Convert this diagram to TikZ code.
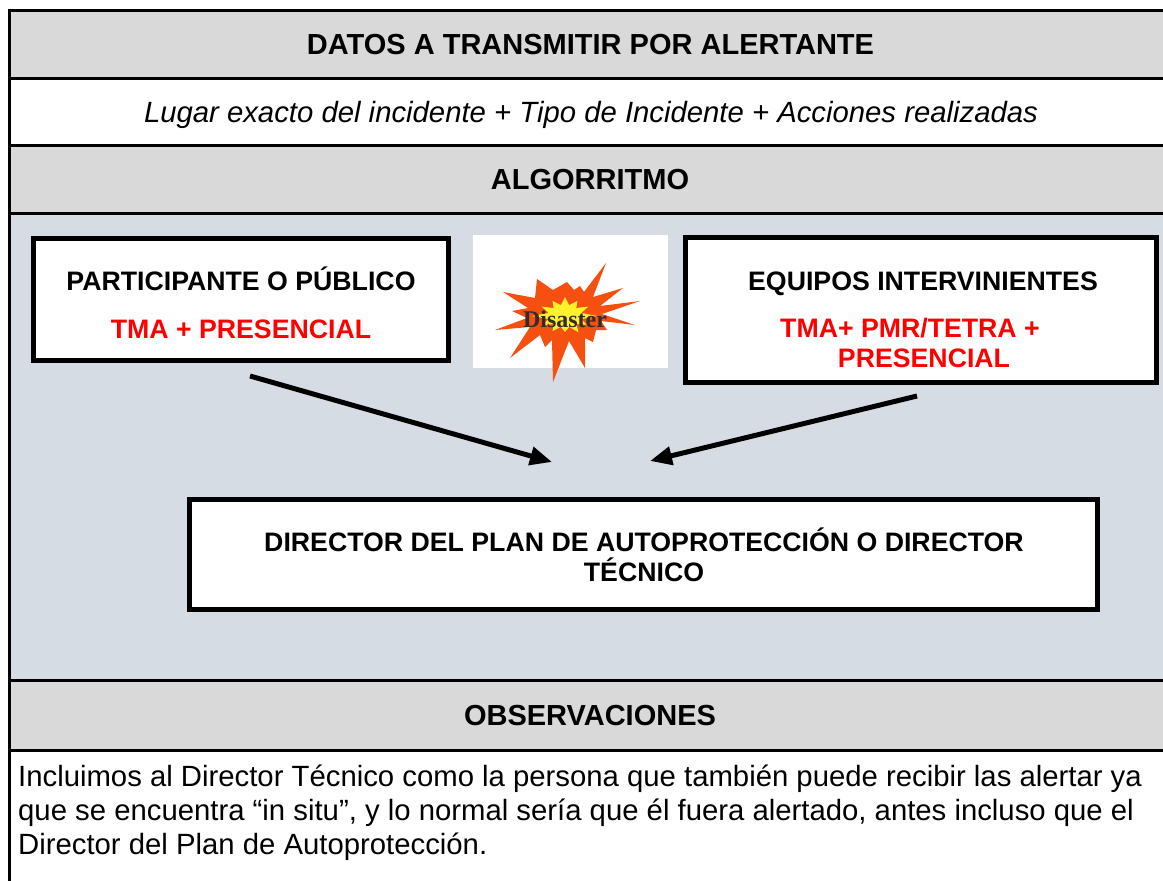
\documentclass[tikz,border=0pt]{standalone}
\usepackage{fontspec}
\setmainfont{Liberation Sans}
\newfontfamily\disfont{Liberation Serif}
\usetikzlibrary{arrows.meta}
\definecolor{hdr}{HTML}{D9D9D9}
\definecolor{alg}{HTML}{D6DCE4}
\definecolor{burst}{HTML}{F5500F}
\definecolor{bursty}{HTML}{FFF22A}
\definecolor{redtxt}{HTML}{FF0000}
\definecolor{distxt}{HTML}{2E2E2E}
\begin{document}
\begin{tikzpicture}[x=1pt,y=-1pt,
  tblline/.style={line width=3pt},
  tbltxt/.style={font=\fontsize{29.3}{33}\selectfont, inner sep=0pt, anchor=base},
  hdrtxt/.style={tbltxt, font=\fontsize{29}{33}\selectfont\bfseries},
  boxtxt/.style={font=\fontsize{26.7}{30}\selectfont\bfseries, inner sep=0pt, anchor=base},
  redbox/.style={boxtxt, text=redtxt},
  framebox/.style={draw=black, line width=5pt, fill=white, inner sep=0pt},
  flow/.style={line width=5pt, -{Triangle[length=22pt,width=18pt]}}
]
\useasboundingbox (0,0) rectangle (1163,881);
% backgrounds
\fill[white] (0,0) rectangle (1163,881);
\fill[hdr] (9,10) rectangle (1180,78);
\fill[hdr] (9,145) rectangle (1180,213);
\fill[alg] (9,213) rectangle (1180,680);
\fill[hdr] (9,680) rectangle (1180,750);
% table lines
\draw[tblline] (9,10) -- (1180,10);
\draw[tblline] (9,78) -- (1180,78);
\draw[tblline] (9,145) -- (1180,145);
\draw[tblline] (9,213) -- (1180,213);
\draw[tblline] (9,680) -- (1180,680);
\draw[tblline] (9,750) -- (1180,750);
\draw[tblline] (9,8.5) -- (9,890);
% table texts
\node[hdrtxt] (title) at (590.5,54.5) {DATOS A TRANSMITIR POR ALERTANTE};
\node[tbltxt] (lugar) at (591,122) {\itshape Lugar exacto del incidente + Tipo de Incidente + Acciones realizadas};
\node[hdrtxt] (algo) at (590,189.5) {ALGORRITMO};
\node[hdrtxt] (obsh) at (590,725.5) {OBSERVACIONES};
\node[tbltxt, anchor=base west] (obs1) at (18,786) {Incluimos al Director Técnico como la persona que también puede recibir las alertar ya};
\node[tbltxt, anchor=base west] (obs2) at (18,820) {que se encuentra “in situ”, y lo normal sería que él fuera alertado, antes incluso que el};
\node[tbltxt, anchor=base west] (obs3) at (18,854) {Director del Plan de Autoprotección.};
% boxes
\node[framebox, minimum width=415pt, minimum height=122pt] (part) at (241,299.5) {};
\node[boxtxt] (partA) at (241,290.5) {PARTICIPANTE O PÚBLICO};
\node[redbox] (partB) at (241,338.5) {TMA + PRESENCIAL};
\node[framebox, minimum width=471pt, minimum height=145pt] (equip) at (921,310) {};
\node[boxtxt] (equipA) at (923,290.5) {EQUIPOS INTERVINIENTES};
\node[redbox] (equipB) at (910,337.5) {TMA+ PMR/TETRA +};
\node[redbox] (equipC) at (924,367.5) {PRESENCIAL};
\node[framebox, minimum width=908pt, minimum height=110pt] (dir) at (643.5,554.5) {};
\node[boxtxt] (dirA) at (644,551) {DIRECTOR DEL PLAN DE AUTOPROTECCIÓN O DIRECTOR};
\node[boxtxt] (dirB) at (644,581) {TÉCNICO};
% disaster picture
\node[fill=white, inner sep=0pt, minimum width=195pt, minimum height=133pt] (img) at (570.5,301.5) {};
\fill[burst] (640,301) -- (602,314) -- (635,325) -- (601,321) -- (607,330) -- (596,330)
  -- (593,342) -- (585,338) -- (585,368) -- (569,341) -- (553,382) -- (552,340)
  -- (545,347) -- (540,335) -- (510,358) -- (530,327) -- (495,330) -- (527,318)
  -- (512,311) -- (528,308) -- (503,292) -- (535,298) -- (537,279) -- (553,290)
  -- (567,282) -- (574,290) -- (580,286) -- (584,292) -- (606,263) -- (593,297)
  -- (623,288) -- (600,306) -- cycle;
\begin{scope}[shift={(565,316)}, yscale=0.7]
\fill[bursty] (0:32) -- (15:17) -- (30:25) -- (45:16) -- (60:27) -- (75:16) -- (90:23)
  -- (105:16) -- (120:25) -- (135:16) -- (150:27) -- (165:17) -- (180:33) -- (195:17)
  -- (210:27) -- (225:16) -- (240:25) -- (255:16) -- (270:27) -- (285:16) -- (300:25)
  -- (315:16) -- (330:27) -- (345:17) -- cycle;
\end{scope}
\node[inner sep=0pt, anchor=base, text=distxt, font=\disfont\bfseries\fontsize{24}{24}\selectfont] (dis) at (565,327) {Disaster};
% arrows
\coordinate (a1s) at (250,376);
\coordinate (a1e) at (552,462);
\coordinate (a2s) at (917,396);
\coordinate (a2e) at (650,461);
\draw[flow] (a1s) -- (a1e);
\draw[flow] (a2s) -- (a2e);
\end{tikzpicture}
\end{document}
